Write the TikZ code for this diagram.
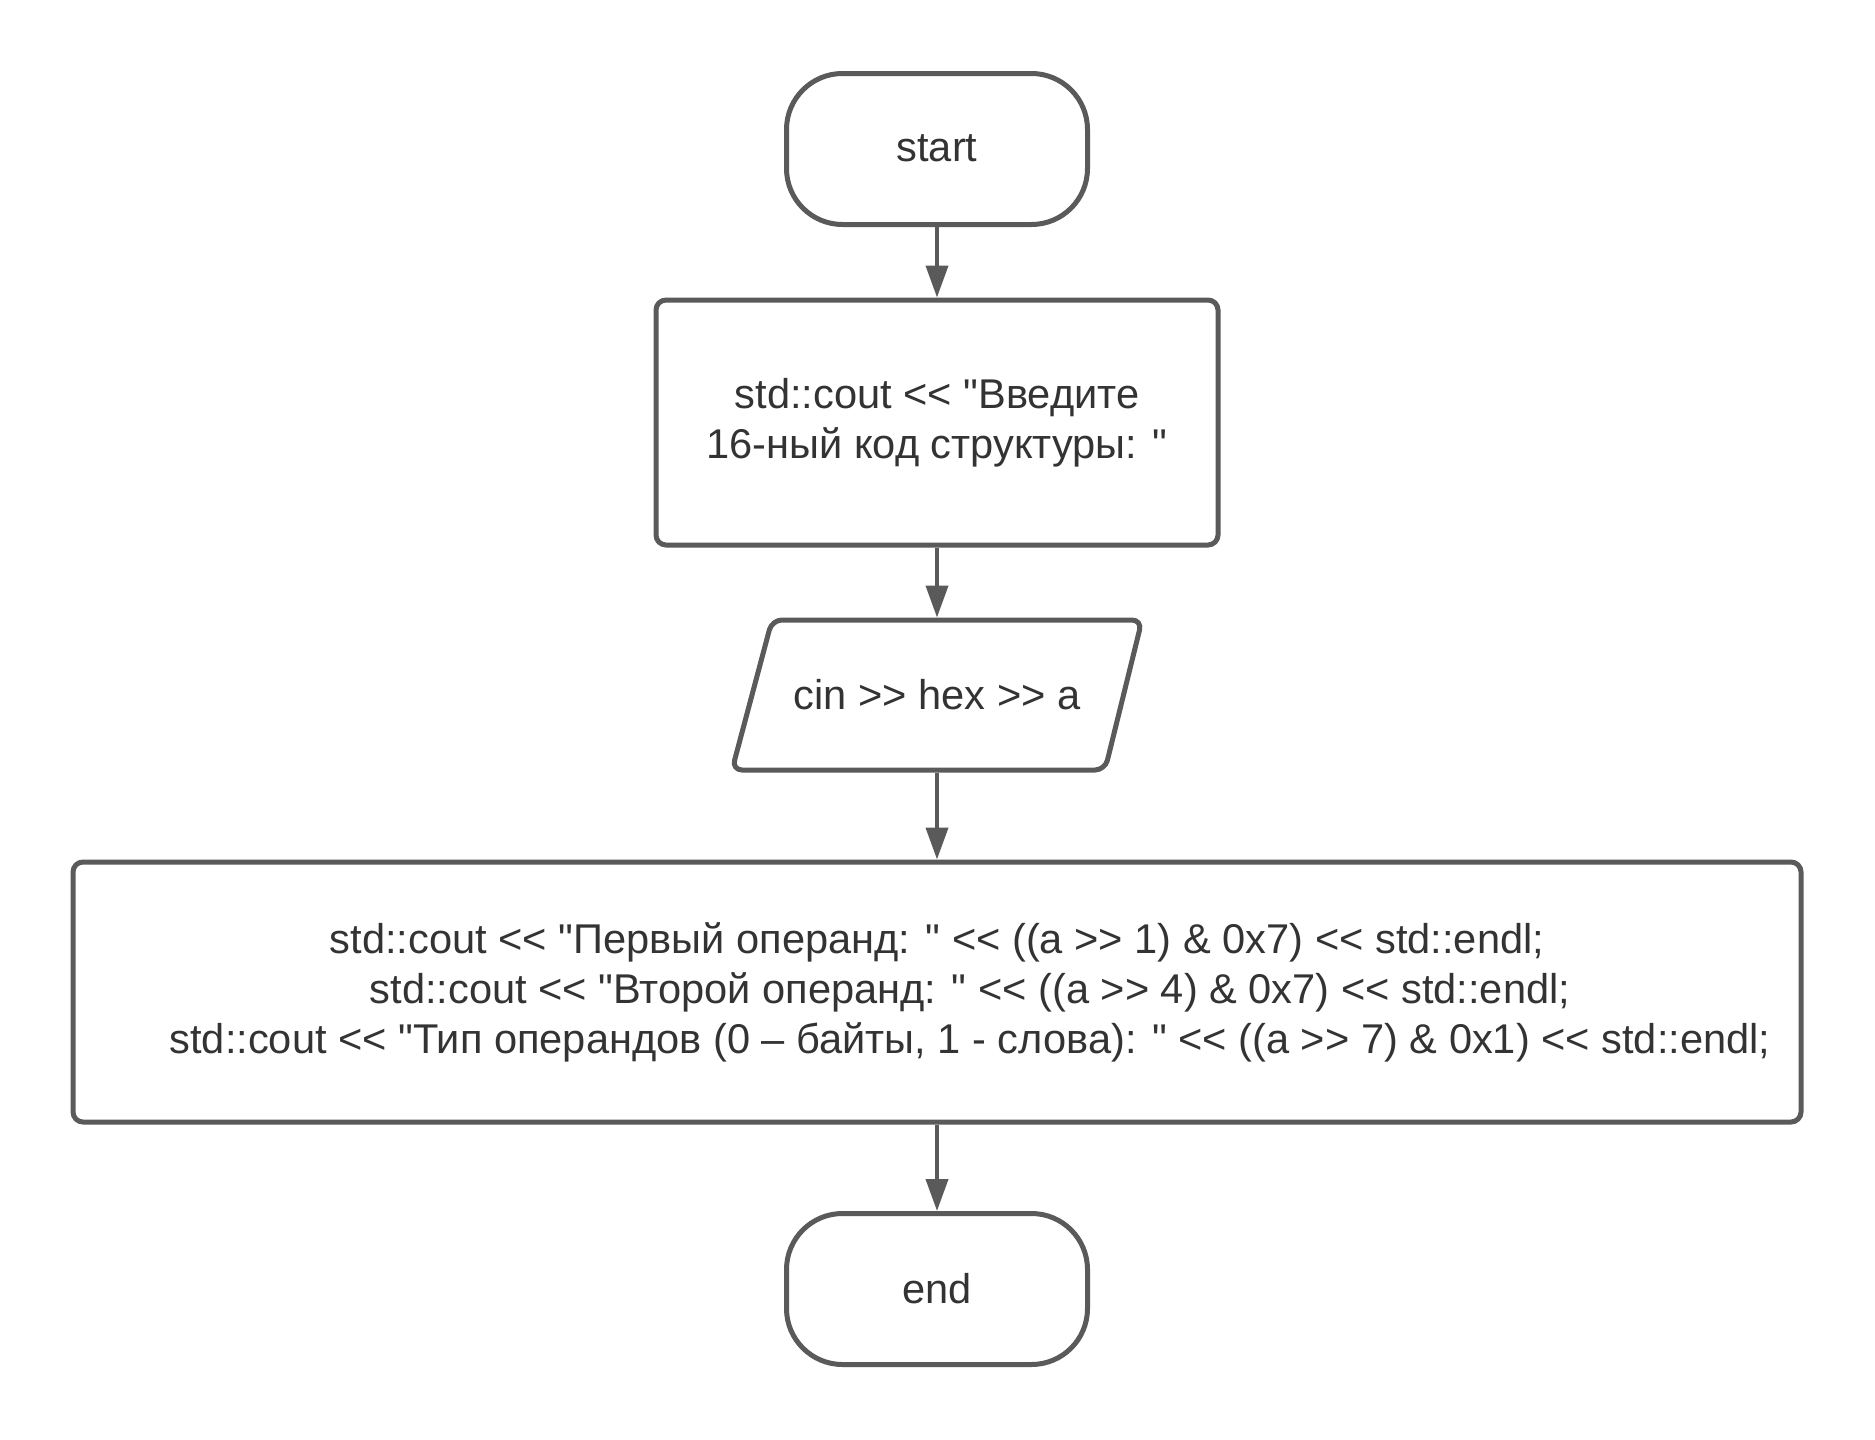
\documentclass[tikz,border=0pt]{standalone}
\usepackage{fontspec}
\setmainfont{Liberation Sans}[Ligatures=TeXOff]
\usetikzlibrary{arrows.meta}
\definecolor{strokegray}{HTML}{5A5A5A}
\definecolor{textgray}{HTML}{333333}
\begin{document}
\begin{tikzpicture}[x=0.5pt,y=-0.5pt,
  base/.style={draw=strokegray, line width=2.5pt, text=textgray,
    font=\fontsize{20.8}{25}\selectfont, inner sep=0pt, align=center},
  term/.style={base, rounded corners=28pt, minimum width=150.5pt, minimum height=75.5pt},
  proc/.style={base, rounded corners=5pt},
  flow/.style={draw=strokegray, line width=2pt, -{Triangle[length=16pt,width=11pt]}}]
\useasboundingbox[fill=white] (0,0) rectangle (1875,1440);

\node[term] (start) at (937,149) {\raisebox{1pt}{start}};
\node[proc, minimum width=281pt, minimum height=122.5pt] (box1) at (937,422.5)
  {std::cout << "Введите\\16-ный код структуры: "};
\draw[draw=strokegray, line width=2.5pt, rounded corners=5pt]
  (772,620) -- (1142,620) -- (1105,770) -- (732,770) -- cycle;
\node[base, draw=none, minimum width=180pt, minimum height=75pt] (para) at (937,695)
  {\raisebox{1pt}{cin >> hex >> a}};
\node[proc, minimum width=864pt, minimum height=130pt] (box2) at (937,992)
  {std::cout << "Первый операнд: " << ((a >> 1) \& 0x7) << std::endl;\\
   \hspace*{33pt}std::cout << "Второй операнд: " << ((a >> 4) \& 0x7) << std::endl;\\
   \hspace*{33pt}std::cout << "Тип операндов (0 – байты, 1 - слова): " << ((a >> 7) \& 0x1) << std::endl;};
\node[term] (end) at (937,1289) {\raisebox{1pt}{end}};

\draw[flow] (start) -- (box1);
\draw[flow] (box1) -- (para);
\draw[flow] (para) -- (box2);
\draw[flow] (box2) -- (end);
\end{tikzpicture}
\end{document}
